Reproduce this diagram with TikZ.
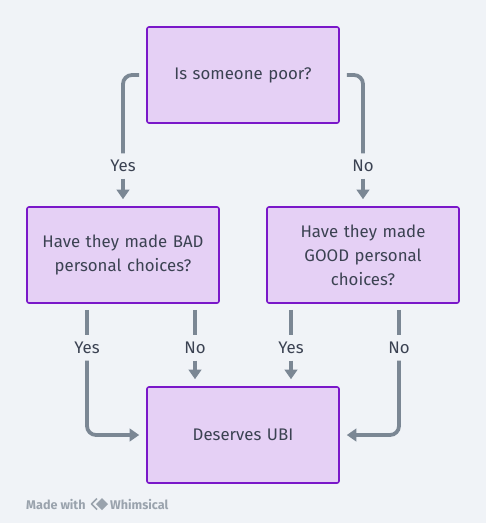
\documentclass[tikz,border=0pt]{standalone}
\usepackage{fontspec}
\setmainfont{Fira Sans}
\usetikzlibrary{arrows.meta}
\definecolor{boxfill}{HTML}{E5D0F5}
\definecolor{boxline}{HTML}{7A17C9}
\definecolor{connline}{HTML}{7B8794}
\definecolor{txt}{HTML}{3B4252}
\definecolor{bg}{HTML}{F0F3F7}
\definecolor{brand}{HTML}{9AA3AD}
\begin{document}
\begin{tikzpicture}[x=1pt,y=-1pt,
    box/.style={draw=boxline,fill=boxfill,line width=1.6pt,rounded corners=2pt,
        minimum width=192pt,minimum height=96pt,text width=180pt,inner sep=0pt,
        align=center,text=txt,font=\fontsize{16.8}{24}\selectfont},
    conn/.style={draw=connline,line width=3.8pt,rounded corners=9pt},
    arr/.style={conn,-{Triangle[length=9.5pt,width=12.5pt]}},
    lbl/.style={text=txt,font=\fontsize{16.8}{18}\selectfont,inner sep=0pt,minimum height=25pt}]
    \fill[bg] (0,0) rectangle (486,523);
    \useasboundingbox (0,0) rectangle (486,523);

    % questions
    \node[box] (poor) at (243,75) {Is someone poor?};
    \node[box] (bad) at (123,255) {Have they made BAD\\personal choices?};
    \node[box] (good) at (363,255) {Have they made\\GOOD personal\\choices?};
    \node[box] (ubi) at (243,435) {Deserves UBI};

    % answers
    \node[lbl] (yes0) at (123,166) {Yes};
    \node[lbl] (no0) at (363,166) {No};
    \node[lbl] (yes1) at (87,348) {Yes};
    \node[lbl] (no1) at (195,348) {No};
    \node[lbl] (yes2) at (291,348) {Yes};
    \node[lbl] (no2) at (399,348) {No};

    % first question
    \draw[conn] ([xshift=-7pt]poor.west) -| (yes0.north);
    \draw[arr] (yes0.south) -- ([yshift=7pt]bad.north);
    \draw[conn] ([xshift=7pt]poor.east) -| (no0.north);
    \draw[arr] (no0.south) -- ([yshift=7pt]good.north);

    % second questions
    \foreach \ans in {yes1,no1}
        \draw[conn] ([yshift=-6pt]\ans |- bad.south) -- (\ans.north);
    \foreach \ans in {yes2,no2}
        \draw[conn] ([yshift=-6pt]\ans |- good.south) -- (\ans.north);
    \draw[arr] (yes1.south) |- ([xshift=-7pt]ubi.west);
    \draw[arr] (no1.south) -- ([yshift=7pt]no1 |- ubi.north);
    \draw[arr] (yes2.south) -- ([yshift=7pt]yes2 |- ubi.north);
    \draw[arr] (no2.south) |- ([xshift=7pt]ubi.east);

    % footer
    \node[anchor=west,text=brand,font=\fontsize{12.6}{14}\selectfont\bfseries,inner sep=0pt] (made) at (26,504) {Made with};
    \draw[brand,line width=1.6pt,line join=round] (97,498.5) -- (91.5,504) -- (97,509.5);
    \fill[brand] (102,498) -- (108,504) -- (102,510) -- (96,504) -- cycle;
    \node[anchor=west,text=brand,font=\fontsize{12.6}{14}\selectfont\bfseries,inner sep=0pt] (whim) at (110,504) {Whimsical};
\end{tikzpicture}
\end{document}
